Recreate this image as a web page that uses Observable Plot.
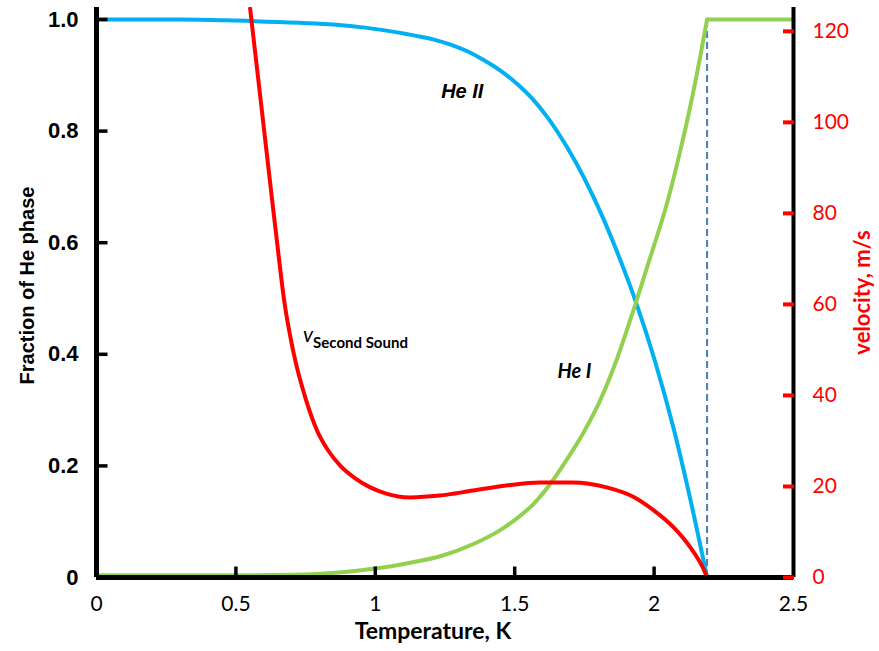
<!DOCTYPE html>
<html>
<head>
<meta charset="utf-8">
<script src="https://cdn.jsdelivr.net/npm/d3@7"></script>
<script src="https://cdn.jsdelivr.net/npm/@observablehq/plot@0.6"></script>
<style>
  html, body { margin: 0; padding: 0; background: #fff; }
</style>
</head>
<body>
<div id="chart"></div>
<script>
// ---- data ----
// He II (superfluid) fraction vs temperature
const heIIT = [0, 0.3, 0.5, 0.73, 0.85, 0.97, 1.09, 1.21, 1.27, 1.33, 1.39, 1.45, 1.51, 1.567, 1.617, 1.689, 1.747, 1.81, 1.87, 1.94, 2.0, 2.07, 2.13, 2.19];
const heIIF = [1.0, 1.0, 0.998, 0.994, 0.991, 0.985, 0.976, 0.964, 0.955, 0.943, 0.927, 0.908, 0.884, 0.856, 0.825, 0.770, 0.718, 0.652, 0.580, 0.486, 0.393, 0.267, 0.14, 0];

// He I (normal) fraction vs temperature, rising part
const heIT = [0, 0.5, 0.7, 0.87, 1.0, 1.12, 1.233, 1.352, 1.448, 1.508, 1.568, 1.628, 1.688, 1.747, 1.807, 1.867, 1.933, 1.987, 2.047, 2.094, 2.13, 2.166, 2.19];
const heIF = [0.004, 0.004, 0.005, 0.009, 0.016, 0.026, 0.038, 0.060, 0.085, 0.106, 0.132, 0.168, 0.212, 0.260, 0.318, 0.392, 0.490, 0.575, 0.672, 0.765, 0.845, 0.935, 1.0];
// He I above the lambda point
const heIAboveT = [2.19, 2.5];
const heIAboveF = [1.0, 1.0];

// second sound velocity (m/s) vs temperature
const vT = [0.551, 0.589, 0.630, 0.651, 0.673, 0.705, 0.752, 0.791, 0.831, 0.874, 0.928, 0.982, 1.036, 1.125, 1.23, 1.35, 1.47, 1.59, 1.71, 1.83, 1.93, 2.0, 2.07, 2.13, 2.18, 2.19];
const vVel = [125, 104.8, 82.9, 71.9, 60.9, 49.9, 38.9, 32.3, 27.9, 24.6, 21.8, 19.8, 18.5, 17.6, 18.0, 19.1, 20.2, 20.9, 20.9, 19.8, 17.6, 14.7, 11.0, 6.6, 1.5, 0];

const lambdaT = 2.19;

const xTicks = [0, 0.5, 1, 1.5, 2, 2.5];
const xTickLabels = ["0", "0.5", "1", "1.5", "2", "2.5"];
const fracTicks = [0, 0.2, 0.4, 0.6, 0.8, 1.0];
const fracTickLabels = ["0", "0.2", "0.4", "0.6", "0.8", "1.0"];
const velTicks = [0, 20, 40, 60, 80, 100, 120];
const velTickLabels = ["0", "20", "40", "60", "80", "100", "120"];

const xTitle = "Temperature, K";
const yTitle = "Fraction of He phase";
const y2Title = "velocity, m/s";

// ---- derived tables ----
const VEL_AT_ONE = 122.6; // velocity that lines up with fraction 1.0 (secondary axis scaling)
const heII = heIIT.map((t, i) => ({t, f: heIIF[i]}));
const heI = heIT.map((t, i) => ({t, f: heIF[i]}));
const heIAbove = heIAboveT.map((t, i) => ({t, f: heIAboveF[i]}));
const vel = vT.map((t, i) => ({t, f: vVel[i] / VEL_AT_ONE}));
const velTickPos = velTicks.map(v => v / VEL_AT_ONE);
const leftTickData = fracTicks.slice(1).map(f => ({t: 0, f}));
const bottomTickData = xTicks.slice(1, -1).map(t => ({t, f: 0}));

// inward tick shapes used as dot symbols
const tickRightSymbol = {draw(ctx) { ctx.moveTo(0, 0); ctx.lineTo(11, 0); }};
const tickUpSymbol = {draw(ctx) { ctx.moveTo(0, 0); ctx.lineTo(0, -11); }};

const YMAX = 1.0215;
const labelFont = "Lato, 'Open Sans', sans-serif";
const arial = "'Liberation Sans', Arial, sans-serif";

const chart = Plot.plot({
  width: 879,
  height: 651,
  marginLeft: 96,
  marginRight: 86,
  marginTop: 7,
  marginBottom: 74,
  x: {domain: [0, 2.5]},
  y: {domain: [0, YMAX]},
  marks: [
    // dashed lambda line
    Plot.ruleX([lambdaT], {y1: 0, y2: 1.0, stroke: "#4a7ebb", strokeWidth: 2, strokeDasharray: "7,4"}),
    // curves
    Plot.line(heII, {x: "t", y: "f", stroke: "#00b0f0", strokeWidth: 4, curve: "monotone-x"}),
    Plot.line(heI, {x: "t", y: "f", stroke: "#92d050", strokeWidth: 4, curve: "monotone-x"}),
    Plot.line(heIAbove, {x: "t", y: "f", stroke: "#92d050", strokeWidth: 4}),
    Plot.line(vel, {x: "t", y: "f", stroke: "#ff0000", strokeWidth: 4, curve: "monotone-x", clip: true}),
    // axis lines
    Plot.ruleX([0], {y1: 0, y2: YMAX, stroke: "black", strokeWidth: 5}),
    Plot.ruleX([2.5], {y1: 0, y2: YMAX, stroke: "black", strokeWidth: 4}),
    Plot.ruleY([0], {stroke: "black", strokeWidth: 5}),
    // left ticks (inward) + labels
    Plot.dot(leftTickData, {x: "t", y: "f", symbol: tickRightSymbol, r: 5, fill: "none", stroke: "black", strokeWidth: 3.5}),
    Plot.axisY({anchor: "left", ticks: fracTicks, tickSize: 0, tickPadding: 18, label: null,
      tickFormat: (d, i) => fracTickLabels[i], fontSize: 22, fontWeight: "bold", fontFamily: arial, fill: "black"}),
    // bottom ticks (inward) + labels
    Plot.dot(bottomTickData, {x: "t", y: "f", symbol: tickUpSymbol, r: 5, fill: "none", stroke: "black", strokeWidth: 3.5}),
    Plot.axisX({anchor: "bottom", ticks: xTicks, tickSize: 0, tickPadding: 19, label: null,
      tickFormat: (d, i) => xTickLabels[i], fontSize: 21, fontFamily: labelFont, fill: "black"}),
    // right (velocity) ticks + labels
    Plot.axisY({anchor: "right", ticks: velTickPos, tickSize: 11, dx: -11, tickFormat: () => "", strokeWidth: 4, stroke: "#ff0000", label: null}),
    Plot.axisY({anchor: "right", ticks: velTickPos, tickSize: 0, tickPadding: 19, label: null,
      tickFormat: (d, i) => velTickLabels[i], fontSize: 21, fontFamily: labelFont, fill: "#ff0000"}),
    // axis titles
    Plot.text([xTitle], {text: d => d, frameAnchor: "bottom", dx: -12, dy: 61, fontSize: 23, fontWeight: "bold", fontFamily: labelFont, fill: "black"}),
    Plot.text([yTitle], {text: d => d, frameAnchor: "left", textAnchor: "middle", dx: -69, dy: -7, rotate: -90, fontSize: 20, fontWeight: "bold", fontFamily: arial, fill: "black"}),
    Plot.text([y2Title], {text: d => d, frameAnchor: "right", textAnchor: "middle", dx: 69, dy: 0, rotate: -90, fontSize: 22, fontWeight: "bold", fontFamily: labelFont, fill: "#ff0000"}),
    // curve annotations
    Plot.text(["He II"], {text: d => d, x: 1.312, y: 0.871, fontSize: 20, fontWeight: "bold", fontStyle: "italic", fontFamily: arial, fill: "black"}),
    Plot.text(["He I"], {text: d => d, x: 1.714, y: 0.369, fontSize: 20, fontWeight: "bold", fontStyle: "italic", fontFamily: labelFont, fill: "black"}),
    Plot.text(["v"], {text: d => d, x: 0.741, y: 0.434, textAnchor: "start", fontSize: 21, fontStyle: "italic", fontFamily: labelFont, fill: "black"}),
    Plot.text(["Second Sound"], {text: d => d, x: 0.741, y: 0.434, dx: 10, dy: 8, textAnchor: "start", fontSize: 15, fontWeight: "bold", fontFamily: labelFont, fill: "black"})
  ]
});
document.getElementById("chart").appendChild(chart);
</script>
</body>
</html>
